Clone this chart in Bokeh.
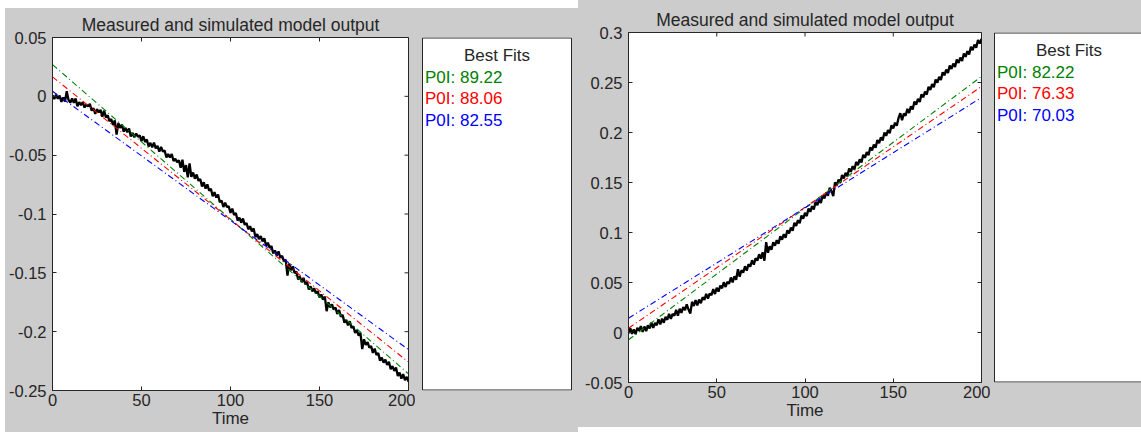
import math
from bokeh.plotting import figure
from bokeh.layouts import row
from bokeh.models import Range1d, FixedTicker, ColumnDataSource
from bokeh.core.properties import value
from bokeh.embed import file_html
from bokeh.resources import INLINE

# ---------------- data ----------------
title_text = "Measured and simulated model output"
x_label = "Time"
legend_title = "Best Fits"

time = list(range(0, 201))

left_measured = [
    0.0010, -0.0023, 0.0013, -0.0020, 0.0006, -0.0047, -0.0010, -0.0044, 0.0043, -0.0031,
    -0.0054, -0.0019, -0.0054, -0.0019, -0.0084, -0.0050, -0.0075, -0.0050, -0.0095, -0.0070,
    -0.0085, -0.0064, -0.0122, -0.0101, -0.0149, -0.0108, -0.0136, -0.0115, -0.0173, -0.0122,
    -0.0180, -0.0161, -0.0212, -0.0193, -0.0244, -0.0205, -0.0326, -0.0227, -0.0268, -0.0239,
    -0.0300, -0.0268, -0.0306, -0.0274, -0.0342, -0.0310, -0.0348, -0.0316, -0.0344, -0.0332,
    -0.0380, -0.0339, -0.0388, -0.0367, -0.0426, -0.0395, -0.0434, -0.0393, -0.0442, -0.0421,
    -0.0470, -0.0430, -0.0470, -0.0460, -0.0520, -0.0490, -0.0520, -0.0490, -0.0550, -0.0530,
    -0.0560, -0.0543, -0.0606, -0.0539, -0.0642, -0.0585, -0.0688, -0.0571, -0.0684, -0.0647,
    -0.0700, -0.0664, -0.0718, -0.0702, -0.0766, -0.0730, -0.0784, -0.0748, -0.0802, -0.0786,
    -0.0850, -0.0815, -0.0860, -0.0835, -0.0900, -0.0885, -0.0940, -0.0905, -0.0940, -0.0935,
    -0.0990, -0.0954, -0.1008, -0.0992, -0.1056, -0.1030, -0.1074, -0.1038, -0.1092, -0.1076,
    -0.1130, -0.1104, -0.1148, -0.1122, -0.1196, -0.1170, -0.1214, -0.1188, -0.1232, -0.1206,
    -0.1270, -0.1244, -0.1288, -0.1272, -0.1336, -0.1310, -0.1354, -0.1318, -0.1372, -0.1356,
    -0.1400, -0.1387, -0.1524, -0.1421, -0.1478, -0.1445, -0.1502, -0.1489, -0.1556, -0.1533,
    -0.1580, -0.1543, -0.1596, -0.1579, -0.1642, -0.1615, -0.1658, -0.1631, -0.1674, -0.1657,
    -0.1710, -0.1684, -0.1728, -0.1702, -0.1826, -0.1750, -0.1794, -0.1768, -0.1812, -0.1796,
    -0.1850, -0.1816, -0.1872, -0.1858, -0.1924, -0.1900, -0.1946, -0.1912, -0.1968, -0.1954,
    -0.2010, -0.1987, -0.2034, -0.2011, -0.2148, -0.2065, -0.2112, -0.2089, -0.2136, -0.2123,
    -0.2180, -0.2144, -0.2198, -0.2182, -0.2246, -0.2220, -0.2264, -0.2238, -0.2282, -0.2256,
    -0.2320, -0.2292, -0.2333, -0.2305, -0.2376, -0.2348, -0.2399, -0.2361, -0.2412, -0.2384,
    -0.2425,
]

right_measured = [
    -0.0010, 0.0043, -0.0013, 0.0030, -0.0017, 0.0047, 0.0020, 0.0063, 0.0006, 0.0060,
    0.0013, 0.0071, 0.0040, 0.0098, 0.0047, 0.0095, 0.0073, 0.0132, 0.0080, 0.0139,
    0.0097, 0.0157, 0.0127, 0.0187, 0.0137, 0.0187, 0.0167, 0.0227, 0.0167, 0.0237,
    0.0197, 0.0255, 0.0224, 0.0282, 0.0230, 0.0189, 0.0307, 0.0265, 0.0323, 0.0272,
    0.0330, 0.0292, 0.0353, 0.0325, 0.0387, 0.0339, 0.0390, 0.0372, 0.0434, 0.0385,
    0.0447, 0.0409, 0.0470, 0.0442, 0.0503, 0.0455, 0.0507, 0.0488, 0.0550, 0.0501,
    0.0563, 0.0528, 0.0633, 0.0558, 0.0623, 0.0598, 0.0663, 0.0618, 0.0683, 0.0658,
    0.0723, 0.0678, 0.0743, 0.0718, 0.0783, 0.0738, 0.0803, 0.0718, 0.0903, 0.0798,
    0.0863, 0.0828, 0.0903, 0.0868, 0.0923, 0.0888, 0.0963, 0.0928, 0.0983, 0.0948,
    0.1023, 0.0991, 0.1050, 0.1018, 0.1097, 0.1065, 0.1123, 0.1092, 0.1170, 0.1139,
    0.1197, 0.1164, 0.1240, 0.1207, 0.1263, 0.1230, 0.1307, 0.1273, 0.1330, 0.1296,
    0.1373, 0.1341, 0.1400, 0.1368, 0.1447, 0.1415, 0.1363, 0.1502, 0.1470, 0.1529,
    0.1497, 0.1574, 0.1540, 0.1597, 0.1563, 0.1640, 0.1607, 0.1663, 0.1630, 0.1706,
    0.1673, 0.1731, 0.1700, 0.1778, 0.1747, 0.1805, 0.1773, 0.1852, 0.1820, 0.1879,
    0.1847, 0.1925, 0.1894, 0.1952, 0.1920, 0.1999, 0.1967, 0.2025, 0.1993, 0.2072,
    0.2040, 0.2098, 0.2067, 0.2145, 0.2193, 0.2122, 0.2190, 0.2168, 0.2236, 0.2195,
    0.2263, 0.2231, 0.2310, 0.2278, 0.2337, 0.2305, 0.2383, 0.2352, 0.2410, 0.2379,
    0.2457, 0.2425, 0.2484, 0.2452, 0.2530, 0.2499, 0.2557, 0.2525, 0.2603, 0.2572,
    0.2630, 0.2595, 0.2670, 0.2635, 0.2690, 0.2655, 0.2730, 0.2695, 0.2750, 0.2715,
    0.2790, 0.2757, 0.2813, 0.2780, 0.2857, 0.2824, 0.2880, 0.2847, 0.2924, 0.2890,
    0.2937,
]

fit_time = [0, 50, 100, 150, 200]
left_fit_green = [0.0270, -0.0387, -0.1044, -0.1701, -0.2358]
left_fit_red = [0.0165, -0.0441, -0.1047, -0.1653, -0.2259]
left_fit_blue = [0.0043, -0.0506, -0.1055, -0.1604, -0.2153]
right_fit_green = [-0.0073, 0.0585, 0.1244, 0.1902, 0.2560]
right_fit_red = [0.0043, 0.0647, 0.1252, 0.1856, 0.2460]
right_fit_blue = [0.0143, 0.0695, 0.1247, 0.1798, 0.2350]

left_fit_labels = ["P0I: 89.22", "P0I: 88.06", "P0I: 82.55"]
right_fit_labels = ["P0I: 82.22", "P0I: 76.33", "P0I: 70.03"]
fit_colors = ["#008000", "#ff0000", "#0000ff"]

x_ticks = [0, 50, 100, 150, 200]
x_tick_labels = ["0", "50", "100", "150", "200"]
left_y_ticks = [-0.25, -0.2, -0.15, -0.1, -0.05, 0, 0.05]
left_y_tick_labels = ["-0.25", "-0.2", "-0.15", "-0.1", "-0.05", "0", "0.05"]
right_y_ticks = [-0.05, 0, 0.05, 0.1, 0.15, 0.2, 0.25, 0.3]
right_y_tick_labels = ["-0.05", "0", "0.05", "0.1", "0.15", "0.2", "0.25", "0.3"]

# ---------------- style ----------------
FONT = "Liberation Sans"
GRAY = "#cccccc"
INK = "#262626"
TICK_FS = "16.5px"


def style_axis(ax, ticks, labels):
    ax.ticker = FixedTicker(ticks=ticks)
    ax.major_tick_in = 4
    ax.major_tick_out = 0
    ax.minor_tick_line_color = None
    ax.axis_line_color = INK
    ax.major_tick_line_color = INK
    ax.major_label_overrides = dict(zip(ticks, labels))
    ax.major_label_text_font = FONT
    ax.major_label_text_font_size = TICK_FS
    ax.major_label_text_color = INK


def make_main(width, height, borders, yr, y_ticks, y_labels, measured, fits):
    p = figure(width=width, height=height, x_range=Range1d(0, 200), y_range=Range1d(*yr),
               output_backend="svg", toolbar_location=None, title=title_text,
               min_border_left=borders[0], min_border_right=borders[1],
               min_border_top=borders[2], min_border_bottom=borders[3])
    p.background_fill_color = "white"
    p.border_fill_color = GRAY
    p.outline_line_color = INK
    p.grid.visible = False
    p.title.align = "center"
    p.title.text_font = FONT
    p.title.text_font_size = "17.5px"
    p.title.text_font_style = "normal"
    p.title.text_color = INK
    p.title.standoff = 6

    xa = p.xaxis[0]
    style_axis(xa, x_ticks, x_tick_labels)
    xa.major_label_standoff = 3
    xa.axis_label = x_label
    xa.axis_label_text_font = FONT
    xa.axis_label_text_font_size = "17px"
    xa.axis_label_text_font_style = "normal"
    xa.axis_label_text_color = INK
    xa.axis_label_standoff = 0

    ya = p.yaxis[0]
    style_axis(ya, y_ticks, y_labels)
    ya.major_label_standoff = 6

    p.line(time, measured, line_color="black", line_width=2.3)
    for vals, col in zip(fits, fit_colors):
        p.line(fit_time, vals, line_color=col, line_width=1.1, line_dash="6 3 1 3")

    # mirrored inward ticks on the top and right edges of the box
    p.scatter(x=x_ticks, y=[yr[1]] * len(x_ticks), marker="dash", angle=math.pi / 2,
              size=8, line_color=INK, line_width=1)
    p.scatter(x=[200] * len(y_ticks), y=y_ticks, marker="dash", size=8,
              line_color=INK, line_width=1)
    return p


def make_legend(width, height, frame_h, box_x, labels):
    # the frame of this figure is aligned by the row with the frame of the main plot,
    # so the legend box spans exactly the same vertical extent
    p = figure(width=width, height=height, x_range=Range1d(0, width), y_range=Range1d(frame_h, 0),
               output_backend="svg", toolbar_location=None, x_axis_type=None, y_axis_type=None,
               title=None, min_border_left=0, min_border_right=0, min_border_top=0,
               min_border_bottom=0)
    p.background_fill_color = GRAY
    p.border_fill_color = GRAY
    p.outline_line_color = None
    p.grid.visible = False
    p.quad(left=[box_x[0]], right=[box_x[1]], top=[0.5], bottom=[frame_h - 0.5],
           fill_color="white", line_color=INK, line_width=1)
    cx = (box_x[0] + min(box_x[1], box_x[0] + 149)) / 2
    p.text(x=[cx], y=[17.5], text=[legend_title], text_align="center",
           text_baseline="middle", text_font=value(FONT), text_font_size=value("17px"),
           text_color=INK)
    src = ColumnDataSource(dict(x=[box_x[0] + 2.5] * len(labels), y=[39.5, 61, 82.5],
                                text=labels, color=fit_colors))
    p.text(x="x", y="y", text="text", text_color="color", source=src, text_align="left",
           text_baseline="middle", text_font=value(FONT), text_font_size=value("17px"))
    return p


left_main = make_main(410, 424, (47, 7, 29, 42), (-0.25, 0.05), left_y_ticks, left_y_tick_labels,
                      left_measured, [left_fit_green, left_fit_red, left_fit_blue])
left_leg = make_legend(163, 424, 353, (7, 156), left_fit_labels)
right_main = make_main(412, 427, (50, 9, 32, 45), (-0.05, 0.3), right_y_ticks, right_y_tick_labels,
                       right_measured, [right_fit_green, right_fit_red, right_fit_blue])
right_leg = make_legend(151, 427, 350, (4, 200), right_fit_labels)

left_panel = row(left_main, left_leg, spacing=0, margin=(8, 0, 0, 5),
                 styles={"background-color": GRAY})
right_panel = row(right_main, right_leg, spacing=0, margin=(0, 0, 5, 0),
                  styles={"background-color": GRAY})
layout = row(left_panel, right_panel, spacing=0)

open("out.html", "w").write(file_html(layout, INLINE))
